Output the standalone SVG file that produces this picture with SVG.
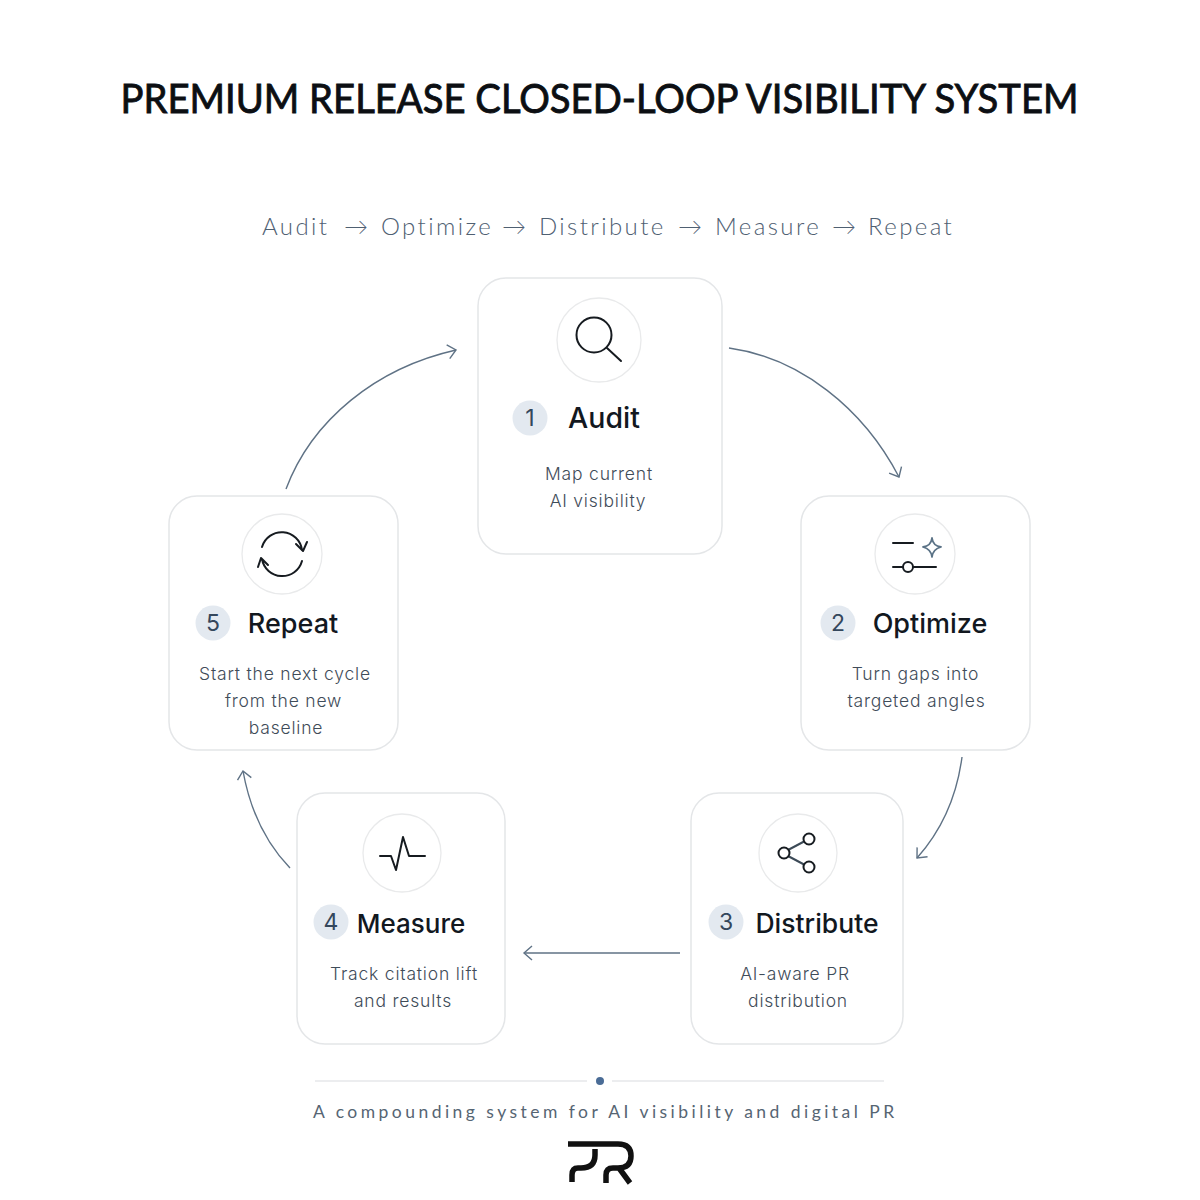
<svg xmlns="http://www.w3.org/2000/svg" width="1200" height="1200" viewBox="0 0 1200 1200">
<style>
text{font-family:"Inter","Liberation Sans",sans-serif}
.sub{font-family:"Lato","Liberation Sans",sans-serif;font-size:24px;font-weight:300;fill:#4f6072;letter-spacing:2.400px}
.card{fill:#fff;stroke:#e4e6e8;stroke-width:1.5}
.ring{fill:#fff;stroke:#e9eaeb;stroke-width:1.3}
.badge{fill:#e3e9f0}
.num{font-size:23px;fill:#34475c;text-anchor:middle}
.head{font-size:26px;font-weight:500;fill:#12181f;text-anchor:middle}
.body{font-size:17.500px;font-weight:300;fill:#3f4c59;text-anchor:middle;letter-spacing:.8px}
.ico{fill:none;stroke:#161b20;stroke-width:2;stroke-linecap:round;stroke-linejoin:round}
.conn{fill:none;stroke:#5f7285;stroke-width:1.4;marker-end:url(#arr)}
</style>
<defs>
<marker id="arr" markerWidth="20" markerHeight="20" refX="14" refY="10" orient="auto" markerUnits="userSpaceOnUse" viewBox="0 0 20 20">
<path d="M6 3L14 10L6 17" fill="none" stroke="#5f7285" stroke-width="1.4"/>
</marker>
</defs>
<rect width="1200" height="1200" fill="#fff"/>
<text x="599.500" y="113" text-anchor="middle" textLength="958" lengthAdjust="spacingAndGlyphs" style="font-family:'Lato','Liberation Sans',sans-serif;font-size:41px;font-weight:400;fill:#0c0f13;stroke:#0c0f13;stroke-width:.9px">PREMIUM RELEASE CLOSED-LOOP VISIBILITY SYSTEM</text>
<g id="subtitle">
<text class="sub" x="262" y="235">Audit</text>
<text class="sub" x="344" y="235">→</text>
<text class="sub" x="381" y="235">Optimize</text>
<text class="sub" x="502" y="235">→</text>
<text class="sub" x="539" y="235">Distribute</text>
<text class="sub" x="678" y="235">→</text>
<text class="sub" x="715" y="235">Measure</text>
<text class="sub" x="832" y="235">→</text>
<text class="sub" x="868" y="235">Repeat</text>
</g>

<g id="connectors">
<path class="conn" d="M729 348C800 358 863 408 899 477"/>
<path class="conn" d="M962 757C957 795 942 830 917 858"/>
<path class="conn" d="M680 953L524 953"/>
<path class="conn" d="M290 868C265 842 250 810 243 771"/>
<path class="conn" d="M286 489C312 420 376 368 456 350"/>
</g>

<g id="node-audit">
<rect class="card" x="478" y="278" width="244" height="276" rx="28"/>
<circle class="ring" cx="599" cy="340" r="42"/>
<circle class="ico" cx="594" cy="335" r="17.500"/>
<path class="ico" d="M607 348L621 361"/>
<circle class="badge" cx="530" cy="418" r="17.500"/>
<text class="num" x="530" y="426">1</text>
<text class="head" x="604" y="428" style="font-size:28.500px">Audit</text>
<text class="body" x="599" y="480">Map current</text>
<text class="body" x="598" y="507">AI visibility</text>
</g>

<g id="node-optimize">
<rect class="card" x="801" y="496" width="229" height="254" rx="28"/>
<circle class="ring" cx="915" cy="554" r="40"/>
<path class="ico" d="M893 543H913M893 567H903M913 567H936"/>
<circle class="ico" cx="908" cy="567" r="5"/>
<path d="M932 538Q933 546 941 547Q933 549 932 557Q931 549 923 547Q931 546 932 538Z" fill="none" stroke="#5a7286" stroke-width="1.800" stroke-linejoin="round"/>
<circle class="badge" cx="838" cy="623" r="17.500"/>
<text class="num" x="838" y="631">2</text>
<text class="head" x="930" y="633" style="font-size:27px">Optimize</text>
<text class="body" x="915.500" y="680">Turn gaps into</text>
<text class="body" x="916.500" y="707">targeted angles</text>
</g>

<g id="node-distribute">
<rect class="card" x="691" y="793" width="212" height="251" rx="28"/>
<circle class="ring" cx="798" cy="853" r="39"/>
<path d="M788 850L805 841M788 856L805 865" fill="none" stroke="#3c4a57" stroke-width="2"/>
<circle class="ico" cx="784" cy="853" r="5.500" style="fill:#fff"/>
<circle class="ico" cx="809" cy="839" r="5.500" style="fill:#fff"/>
<circle class="ico" cx="809" cy="867" r="5.500" style="fill:#fff"/>
<circle class="badge" cx="726" cy="922" r="17.500"/>
<text class="num" x="726" y="930">3</text>
<text class="head" x="817" y="933" style="font-size:26.500px">Distribute</text>
<text class="body" x="795" y="980">AI-aware PR</text>
<text class="body" x="798" y="1007">distribution</text>
</g>

<g id="node-measure">
<rect class="card" x="297" y="793" width="208" height="251" rx="28"/>
<circle class="ring" cx="402" cy="853" r="39"/>
<path class="ico" d="M380 856H391L396 870L403 837L409 856H425"/>
<circle class="badge" cx="331" cy="922" r="17.500"/>
<text class="num" x="331" y="930">4</text>
<text class="head" x="411" y="933">Measure</text>
<text class="body" x="404" y="980">Track citation lift</text>
<text class="body" x="403" y="1007">and results</text>
</g>

<g id="node-repeat">
<rect class="card" x="169" y="496" width="229" height="254" rx="28"/>
<circle class="ring" cx="282" cy="554" r="40"/>
<path class="ico" d="M262 547A20.500 20.500 0 0 1 302 550M296 544L303 551L307 542M302 561A20.500 20.500 0 0 1 262 559M268 565L261 558L258 567"/>
<circle class="badge" cx="213" cy="623" r="17.500"/>
<text class="num" x="213" y="631">5</text>
<text class="head" x="293" y="633" style="font-size:27px">Repeat</text>
<text class="body" x="285" y="680">Start the next cycle</text>
<text class="body" x="283.500" y="707">from the new</text>
<text class="body" x="286" y="734">baseline</text>
</g>

<g id="footer">
<path d="M315 1081H587M612 1081H884" stroke="#e6e8ea" stroke-width="1.500" fill="none"/>
<circle cx="600" cy="1081" r="4" fill="#4a6c96"/>
<text x="313" y="1118" style="font-size:17.500px;font-family:'Lato','Liberation Sans',sans-serif;fill:#566573;letter-spacing:3.460px">A compounding system for AI visibility and digital PR</text>
</g>
<g id="logo" fill="none" stroke="#111" stroke-width="5.500">
<path d="M595 1149V1155Q595 1168 581 1168H578Q572 1168 572 1175V1182"/>
<path d="M568 1144H618Q631 1144 631 1156Q631 1168 618 1168H613Q606 1168 606 1175V1183M619 1168L630 1183"/>
</g>
</svg>
